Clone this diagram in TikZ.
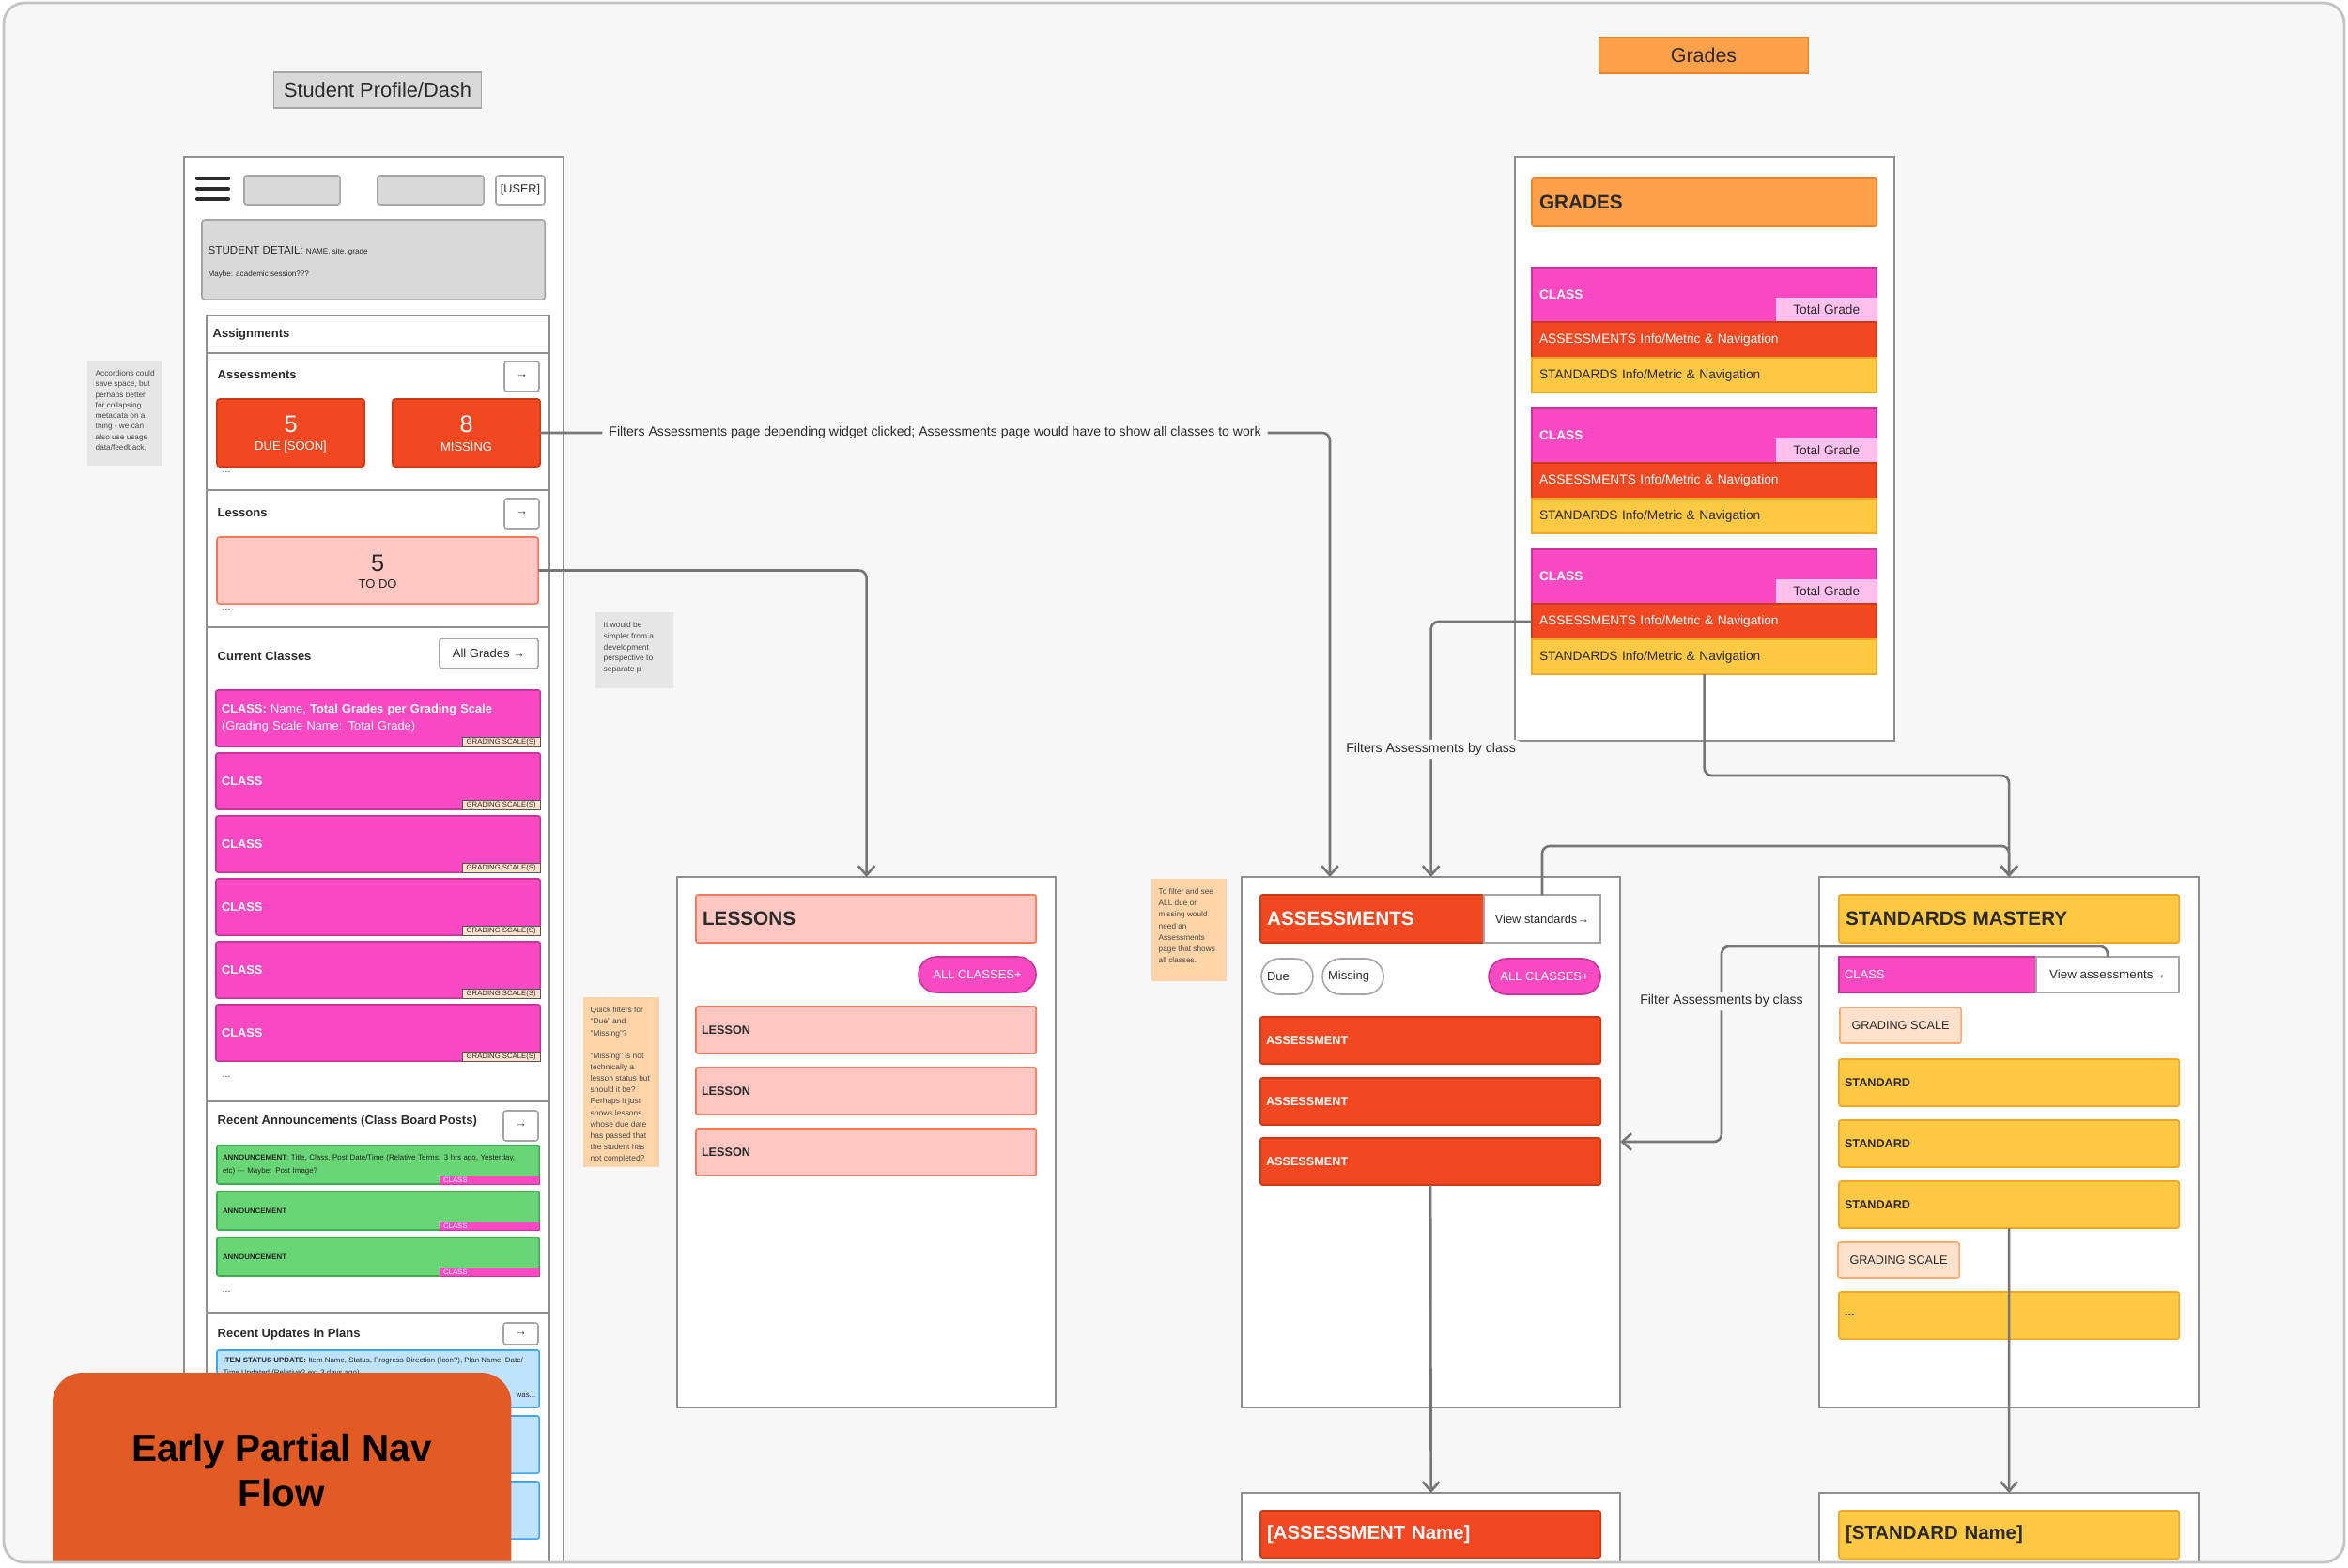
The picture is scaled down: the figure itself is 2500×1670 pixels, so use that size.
\documentclass[tikz,border=0pt]{standalone}
\usepackage{fontspec}
\setmainfont{Liberation Sans}
\usetikzlibrary{arrows.meta,positioning,calc}

\definecolor{bgfill}{HTML}{F7F7F7}
\definecolor{frameline}{HTML}{C4C4C4}
\definecolor{panelline}{HTML}{8F8F8F}
\definecolor{greyC}{HTML}{D9D9D9}
\definecolor{greyD}{HTML}{A6A6A6}
\definecolor{inkC}{HTML}{2B2B2B}
\definecolor{wireC}{HTML}{767676}
\definecolor{magentaC}{HTML}{F94AC3}
\definecolor{magentaD}{HTML}{C9349B}
\definecolor{redC}{HTML}{F24822}
\definecolor{redD}{HTML}{C93A17}
\definecolor{yellowC}{HTML}{FFC943}
\definecolor{yellowD}{HTML}{EFA928}
\definecolor{orangeC}{HTML}{FFA04A}
\definecolor{orangeD}{HTML}{E8832E}
\definecolor{pinkC}{HTML}{FFC7C2}
\definecolor{pinkD}{HTML}{F47A5B}
\definecolor{greenC}{HTML}{68D576}
\definecolor{greenD}{HTML}{3DAE4E}
\definecolor{blueC}{HTML}{BDE3FF}
\definecolor{blueD}{HTML}{3DA5F2}
\definecolor{peachC}{HTML}{FFE1CC}
\definecolor{peachD}{HTML}{FFAA70}
\definecolor{tgC}{HTML}{FFC0EE}
\definecolor{noteGrey}{HTML}{E6E6E6}
\definecolor{noteOrange}{HTML}{FFD4A9}
\definecolor{noteInk}{HTML}{4B4B4B}
\definecolor{titleC}{HTML}{E35B24}

\newcommand{\fsz}[2]{\fontsize{#1}{#2}\selectfont}

\tikzset{
  blk/.style={anchor=north west, inner sep=0pt, outer sep=0pt, line width=0.45pt},
  panel/.style={blk, draw=panelline, fill=white, line width=0.6pt},
  sect/.style={blk, draw=panelline, fill=white, line width=0.5pt, minimum width=3.65cm},
  ttl/.style={inner sep=0pt, line width=0.5pt, text=inkC},
  txt/.style={anchor=west, inner sep=0pt, text=inkC},
  sectitle/.style={txt, font=\fsz{3.7}{4.5}\bfseries},
  more/.style={txt, font=\fsz{3}{3}},
  gobtn/.style={blk, fill=white, draw=greyD, rounded corners=0.8pt, minimum width=0.37cm, minimum height=0.32cm, font=\fsz{3.7}{4}, text=inkC},
  widget/.style={blk, rounded corners=0.8pt, minimum height=0.72cm},
  bignum/.style={inner sep=0pt, font=\fsz{7.2}{8}},
  smallcap/.style={inner sep=0pt, font=\fsz{3.7}{4}},
  clsrow/.style={blk, fill=magentaC, draw=magentaD, rounded corners=0.6pt, minimum width=3.45cm, minimum height=0.60cm, text width=3.33cm, inner xsep=0.06cm, align=left, text=white, font=\fsz{3.65}{5.3}},
  gstag/.style={anchor=south east, inner sep=0pt, outer sep=0pt, fill=peachC, draw=inkC!80, line width=0.3pt, minimum width=0.83cm, minimum height=0.10cm, font=\fsz{2.2}{2.2}, text=inkC},
  annrow/.style={blk, fill=greenC, draw=greenD, rounded corners=0.6pt, minimum width=3.43cm, minimum height=0.41cm, text width=3.31cm, inner xsep=0.06cm, align=left, text=black!85, font=\fsz{2.25}{4.2}},
  anntag/.style={anchor=south east, inner ysep=0pt, inner xsep=0.04cm, outer sep=0pt, fill=magentaC, draw=magentaD, line width=0.3pt, minimum width=1.06cm, minimum height=0.09cm, text width=0.98cm, align=left, font=\fsz{2.2}{2.2}, text=white},
  planrow/.style={blk, fill=blueC, draw=blueD, rounded corners=0.6pt, minimum width=3.43cm, minimum height=0.61cm},
  sticky/.style={blk},
  notetxt/.style={anchor=north west, align=left, inner sep=0pt, font=\fsz{2.35}{3.2}, text=noteInk},
  hdr/.style={blk, minimum width=3.62cm, minimum height=0.51cm, text width=3.48cm, inner xsep=0.07cm, align=left, font=\fsz{5.9}{7}\bfseries, rounded corners=0.6pt},
  rowlbl/.style={blk, minimum width=3.62cm, minimum height=0.50cm, text width=3.50cm, inner xsep=0.06cm, align=left, font=\fsz{3.6}{4.5}\bfseries, rounded corners=0.6pt},
  pill/.style={blk, rounded corners=0.19cm, minimum height=0.38cm, font=\fsz{3.7}{4.5}},
  gpart/.style={blk, minimum width=3.67cm, text width=3.51cm, inner xsep=0.08cm, align=left, font=\fsz{3.9}{4.5}},
  wire/.style={draw=wireC, line width=0.75pt, rounded corners=0.08cm, -{Straight Barb[length=2.8pt, width=5pt]}},
  wirelbl/.style={fill=bgfill, inner xsep=2pt, inner ysep=1pt, font=\fsz{4}{5}, text=inkC},
}

\begin{document}
\begin{tikzpicture}[x=0.01cm, y=-0.01cm]
\useasboundingbox (0,0) rectangle (2500,1670);
\fill[white] (0,0) rectangle (2500,1670);
\begin{scope}
\clip[rounded corners=0.22cm] (4,3) rectangle (2496,1664);
\fill[bgfill] (0,0) rectangle (2500,1670);

% Page titles
\node[ttl, fill=greyC, draw=greyD, minimum width=2.21cm, minimum height=0.38cm, font=\fsz{6.2}{7}] (ttlProfile) at (402,96) {Student Profile/Dash};
\node[ttl, fill=orangeC, draw=orangeD, minimum width=2.23cm, minimum height=0.38cm, font=\fsz{6.1}{7}] (ttlGrades) at (1814,59) {Grades};

% Student profile screen
\node[panel, minimum width=4.04cm, minimum height=16cm] (profile) at (196,167) {};
\foreach \y in {190,201,212}
  \draw[line width=1.2pt, line cap=round, inkC] (210,\y) -- (243,\y);
\node[blk, fill=greyC, draw=greyD, rounded corners=0.8pt, minimum width=1.02cm, minimum height=0.31cm] (srchA) at (260,187) {};
\node[blk, fill=greyC, draw=greyD, rounded corners=0.8pt, minimum width=1.13cm, minimum height=0.31cm] (srchB) at (402,187) {};
\node[blk, fill=white, draw=greyD, rounded corners=0.8pt, minimum width=0.52cm, minimum height=0.31cm, font=\fsz{3.6}{4}, text=inkC] (user) at (528,187) {[USER]};
\node[blk, fill=greyC, draw=greyD, rounded corners=0.8pt, minimum width=3.65cm, minimum height=0.85cm] (detail) at (215,234) {};
\node[txt, font=\fsz{3.3}{4}] (detailA) at (221,267) {STUDENT DETAIL: {\fsz{2.3}{3}NAME, site, grade}};
\node[txt, font=\fsz{2.3}{3}] (detailB) at (221,292) {Maybe: academic session???};

% Sections
\node[sect, minimum height=0.40cm] (secAsg) at (220,336) {};
\node[sect, minimum height=1.46cm] (secAsm) at (220,376) {};
\node[sect, minimum height=1.46cm] (secLes) at (220,522) {};
\node[sect, minimum height=5.05cm] (secCls) at (220,668) {};
\node[sect, minimum height=2.25cm] (secAnn) at (220,1173) {};
\node[sect, minimum height=4.00cm] (secUpd) at (220,1398) {};

\node[sectitle] (tAsg) at (226,356) {Assignments};
\node[sectitle] (tAsm) at (231,399) {Assessments};
\node[gobtn] (goAsm) at (537,385) {→};
\node[widget, fill=redC, draw=redD, minimum width=1.57cm] (due) at (231,425) {};
\node[widget, fill=redC, draw=redD, minimum width=1.57cm] (miss) at (418,425) {};
\node[bignum, text=white] (dueN) at ($(due.center)+(0,-9)$) {5};
\node[smallcap, text=white] (dueL) at ($(due.center)+(0,15)$) {DUE [SOON]};
\node[bignum, text=white] (missN) at ($(miss.center)+(0,-9)$) {8};
\node[smallcap, text=white] (missL) at ($(miss.center)+(0,15)$) {MISSING};
\node[more] (mAsm) at (236,503) {...};

\node[sectitle] (tLes) at (231,546) {Lessons};
\node[gobtn] (goLes) at (537,531) {→};
\node[widget, fill=pinkC, draw=pinkD, minimum width=3.42cm, minimum height=0.71cm] (todo) at (231,572) {};
\node[bignum, text=inkC] (todoN) at ($(todo.center)+(0,-8)$) {5};
\node[smallcap, text=inkC] (todoL) at ($(todo.center)+(0,14)$) {TO DO};
\node[more] (mLes) at (236,650) {...};

\node[sectitle] (tCls) at (231,699) {Current Classes};
\node[gobtn, minimum width=1.05cm] (allGrades) at (468,680) {All Grades →};
\node[clsrow] (cls1) at (230,735) {\textbf{CLASS:} Name, \textbf{Total Grades per Grading Scale}\\(Grading Scale Name: Total Grade)};
\foreach \i in {2,...,6} {
  \pgfmathsetmacro{\yy}{735+67*(\i-1)}
  \node[clsrow] (cls\i) at (230,\yy) {\textbf{CLASS}};
}
\foreach \i in {1,...,6}
  \node[gstag] (gsc\i) at (cls\i.south east) {GRADING SCALE(S)};
\node[more] (mCls) at (236,1147) {...};

\node[sectitle] (tAnn) at (231,1194) {Recent Announcements (Class Board Posts)};
\node[gobtn] (goAnn) at (536,1183) {→};
\node[annrow] (ann1) at (231,1220) {\textbf{ANNOUNCEMENT}: Title, Class, Post Date/Time (Relative Terms: 3 hrs ago, Yesterday,\\etc) {-}{-}{-} Maybe: Post Image?};
\node[annrow] (ann2) at (231,1269) {\textbf{ANNOUNCEMENT}};
\node[annrow] (ann3) at (231,1318) {\textbf{ANNOUNCEMENT}};
\foreach \i in {1,2,3}
  \node[anntag] (annc\i) at (ann\i.south east) {CLASS};
\node[more] (mAnn) at (236,1376) {...};

\node[sectitle] (tUpd) at (231,1421) {Recent Updates in Plans};
\node[gobtn, minimum height=0.23cm] (goUpd) at (536,1409) {→};
\node[planrow] (plan1) at (231,1438) {};
\node[planrow] (plan2) at (231,1508) {};
\node[planrow] (plan3) at (231,1578) {};
\node[txt, anchor=north west, align=left, font=\fsz{2.25}{3.7}] (plan1T) at (237,1445) {\textbf{ITEM STATUS UPDATE:} Item Name, Status, Progress Direction (Icon?), Plan Name, Date/\\Time Updated (Relative? ex: 3 days ago)};
\node[txt, anchor=east, font=\fsz{2.25}{3}] (plan1W) at (571,1486) {was...};

% Title card
\node[blk, fill=titleC, rounded corners=0.32cm, minimum width=4.88cm, minimum height=2.6cm] (card) at (56,1462) {};
\node[inner sep=0pt, align=center, font=\fsz{11.5}{13.7}\bfseries, text=black] (cardT) at (300,1566) {Early Partial Nav\\Flow};

% Sticky notes
\node[sticky, fill=noteGrey, minimum width=0.79cm, minimum height=1.12cm] (noteAcc) at (93,384) {};
\node[notetxt] (noteAccT) at ($(noteAcc.north west)+(8,10)$) {Accordions could\\save space, but\\perhaps better\\for collapsing\\metadata on a\\thing - we can\\also use usage\\data/feedback.};
\node[sticky, fill=noteGrey, minimum width=0.83cm, minimum height=0.81cm] (noteDev) at (634,652) {};
\node[notetxt, font=\fsz{2.4}{3.3}] (noteDevT) at ($(noteDev.north west)+(8,10)$) {It would be\\simpler from a\\development\\perspective to\\separate p};
\node[sticky, fill=noteOrange, minimum width=0.81cm, minimum height=1.81cm] (noteQuick) at (621,1062) {};
\node[notetxt, font=\fsz{2.4}{3.45}] (noteQuickT) at ($(noteQuick.north west)+(7,10)$) {Quick filters for\\“Due” and\\“Missing”?\\[3.45pt]“Missing” is not\\technically a\\lesson status but\\should it be?\\Perhaps it just\\shows lessons\\whose due date\\has passed that\\the student has\\not completed?};
\node[sticky, fill=noteOrange, minimum width=0.80cm, minimum height=1.09cm] (noteAll) at (1226,936) {};
\node[notetxt, font=\fsz{2.35}{3.45}] (noteAllT) at ($(noteAll.north west)+(7,10)$) {To filter and see\\ALL due or\\missing would\\need an\\Assessments\\page that shows\\all classes.};

% Grades screen
\node[panel, minimum width=4.04cm, minimum height=6.22cm] (gradesp) at (1613,167) {};
\node[hdr, fill=orangeC, draw=orangeD, minimum width=3.67cm, text width=3.51cm, inner xsep=0.08cm, text=inkC] (gradesH) at (1631,190) {GRADES};
\foreach \k in {1,2,3} {
  \pgfmathsetmacro{\yy}{135+150*\k}
  \node[gpart, fill=magentaC, draw=magentaD, minimum height=0.58cm, text=white, font=\fsz{3.9}{4.5}\bfseries] (gc\k) at (1631,\yy) {CLASS};
  \node[anchor=south east, inner sep=0pt, outer sep=0pt, fill=tgC, minimum width=1.07cm, minimum height=0.26cm, font=\fsz{3.9}{4.5}, text=inkC] (gt\k) at (gc\k.south east) {Total Grade};
  \node[gpart, fill=redC, draw=redD, minimum height=0.38cm, text=white] (ga\k) at (gc\k.south west) {ASSESSMENTS Info/Metric \& Navigation};
  \node[gpart, fill=yellowC, draw=yellowD, minimum height=0.37cm, text=inkC] (gs\k) at (ga\k.south west) {STANDARDS Info/Metric \& Navigation};
}

% Lessons screen
\node[panel, minimum width=4.03cm, minimum height=5.65cm] (lessp) at (721,934) {};
\node[hdr, fill=pinkC, draw=pinkD, text=inkC] (lessH) at (741,953) {LESSONS};
\node[pill, fill=magentaC, draw=magentaD, minimum width=1.25cm, text=white] (lessAll) at (978,1019) {ALL CLASSES+};
\foreach \y [count=\i] in {1072,1137,1202}
  \node[rowlbl, fill=pinkC, draw=pinkD, text=inkC] (les\i) at (741,\y) {LESSON};

% Assessments screen
\node[panel, minimum width=4.03cm, minimum height=5.65cm] (asmtp) at (1322,934) {};
\node[hdr, fill=redC, draw=redD, minimum width=2.38cm, text width=2.24cm, text=white] (asmtH) at (1342,953) {ASSESSMENTS};
\node[blk, fill=white, draw=greyD, minimum width=1.24cm, minimum height=0.51cm, font=\fsz{3.65}{4.5}, text=inkC] (vstd) at (1580,953) {View standards→};
\node[pill, fill=white, draw=greyD, minimum width=0.55cm, text width=0.43cm, inner xsep=0.06cm, align=left, text=inkC] (fDue) at (1343,1021) {Due};
\node[pill, fill=white, draw=greyD, minimum width=0.65cm, text width=0.53cm, inner xsep=0.06cm, align=left, text=inkC] (fMiss) at (1408,1021) {Missing};
\node[pill, fill=magentaC, draw=magentaD, minimum width=1.19cm, text=white] (asmtAll) at (1585,1021) {ALL CLASSES+};
\foreach \y [count=\i] in {1083,1148,1212}
  \node[rowlbl, fill=redC, draw=redD, text=white] (ast\i) at (1342,\y) {ASSESSMENT};

% Standards screen
\node[panel, minimum width=4.04cm, minimum height=5.65cm] (stdp) at (1937,934) {};
\node[hdr, fill=yellowC, draw=yellowD, text=inkC] (stdH) at (1958,953) {STANDARDS MASTERY};
\node[blk, fill=magentaC, draw=magentaD, minimum width=2.10cm, minimum height=0.38cm, text width=1.98cm, inner xsep=0.06cm, align=left, font=\fsz{3.7}{4.5}, text=white] (stdCls) at (1958,1019) {CLASS};
\node[blk, fill=white, draw=greyD, minimum width=1.52cm, minimum height=0.38cm, font=\fsz{3.8}{4.5}, text=inkC] (vasm) at (2168,1019) {View assessments→};
\node[blk, fill=peachC, draw=peachD, rounded corners=0.6pt, minimum width=1.29cm, minimum height=0.38cm, font=\fsz{3.6}{4.5}, text=inkC] (sgs1) at (1959,1073) {GRADING SCALE};
\foreach \y [count=\i] in {1128,1193,1258}
  \node[rowlbl, fill=yellowC, draw=yellowD, text=inkC] (std\i) at (1958,\y) {STANDARD};
\node[blk, fill=peachC, draw=peachD, rounded corners=0.6pt, minimum width=1.29cm, minimum height=0.38cm, font=\fsz{3.6}{4.5}, text=inkC] (sgs2) at (1957,1323) {GRADING SCALE};
\node[rowlbl, fill=yellowC, draw=yellowD, text=inkC] (stdMore) at (1958,1376) {...};

% Detail screens
\node[panel, minimum width=4.03cm, minimum height=2cm] (anp) at (1322,1590) {};
\node[hdr, fill=redC, draw=redD, minimum height=0.50cm, text=white, font=\fsz{5.8}{7}\bfseries] (anH) at (1342,1609) {[ASSESSMENT Name]};
\node[panel, minimum width=4.04cm, minimum height=2cm] (snp) at (1937,1590) {};
\node[hdr, fill=yellowC, draw=yellowD, text=inkC, font=\fsz{5.8}{7}\bfseries] (snH) at (1958,1609) {[STANDARD Name]};

% Flows between screens
\coordinate (missBend) at (1416,461);
\draw[wire] (miss.east) -- node[wirelbl] (lblMiss) {Filters Assessments page depending widget clicked; Assessments page would have to show all classes to work} (missBend) -- (missBend |- asmtp.north);
\draw[wire] (todo.east) -| (lessp.north);
\draw[wire] (ga3.west) -| node[wirelbl, pos=0.75] (lblGrades) {Filters Assessments by class} (asmtp.north);
\draw[wire] (gs3.south) -- (gs3.south |- 0,826) -| (stdp.north);
\draw[wire] (vstd.north) -- (vstd.north |- 0,901) -| (stdp.north);
\draw[wire] (vasm.north) -- (vasm.north |- 0,1008) -- (1833,1008) -- node[wirelbl, pos=0.28] (lblStd) {Filter Assessments by class} (1833,1216) -- (asmtp.east |- 0,1216);
\draw[wire] (ast3.south) -- (anp.north);
\draw[wire] (std3.south) -- (snp.north);
\end{scope}
\draw[frameline, line width=0.8pt, rounded corners=0.22cm] (4,3) rectangle (2496,1664);
\end{tikzpicture}
\end{document}
